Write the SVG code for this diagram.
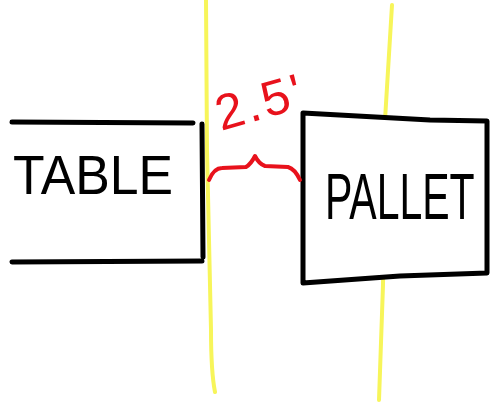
<svg xmlns="http://www.w3.org/2000/svg" width="490" height="404" viewBox="0 0 490 404">
  <style>
    .ink { fill: none; stroke: #000; stroke-width: 5; stroke-linecap: round; stroke-linejoin: round; }
    .box { fill: #fff; stroke: #000; stroke-width: 5; stroke-linecap: round; stroke-linejoin: round; }
    .guide { fill: none; stroke: #f7f55a; stroke-width: 4; stroke-linecap: round; stroke-linejoin: round; }
    .dim { fill: none; stroke: #e8121c; stroke-width: 4; stroke-linecap: round; stroke-linejoin: round; }
    .label { font-family: "Liberation Sans", Arial, sans-serif; fill: #000; }
    .dimtext { font-family: "Liberation Sans", Arial, sans-serif; fill: #e8121c; }
  </style>
  <rect width="490" height="404" fill="#fff"/>

  <!-- clearance guide lines -->
  <path class="guide" d="M206,0 L207,150 L211,330 Q211,372 215,392"/>
  <path class="guide" d="M392,5 L385,120 L383,285 L379,400"/>

  <!-- table -->
  <g id="table">
    <path class="ink" d="M12,122 L193,123"/>
    <path class="ink" d="M202,124 L203,257"/>
    <path class="ink" d="M12,262 L202,261"/>
    <text class="label" x="13" y="194" font-size="56" textLength="160" lengthAdjust="spacingAndGlyphs">TABLE</text>
  </g>

  <!-- pallet (white fill hides the guide line behind it) -->
  <g id="pallet">
    <path class="box" d="M303,113 L430,120 L487,121 L487,273 L400,276 L303,283 Z"/>
    <text class="label" transform="translate(325,219) scale(1,1.6)" x="0" y="0" font-size="41">PALLET</text>
  </g>

  <!-- clearance dimension -->
  <g id="connectors">
    <path class="dim" d="M209,180 Q214,168 222,168 L246,167 Q251,164 255,156 Q259,164 265,166 L288,167 Q295,169 300,180"/>
    <text class="dimtext" x="221" y="131" font-size="50" letter-spacing="3" transform="rotate(-16 221 131)">2.5'</text>
  </g>
</svg>
